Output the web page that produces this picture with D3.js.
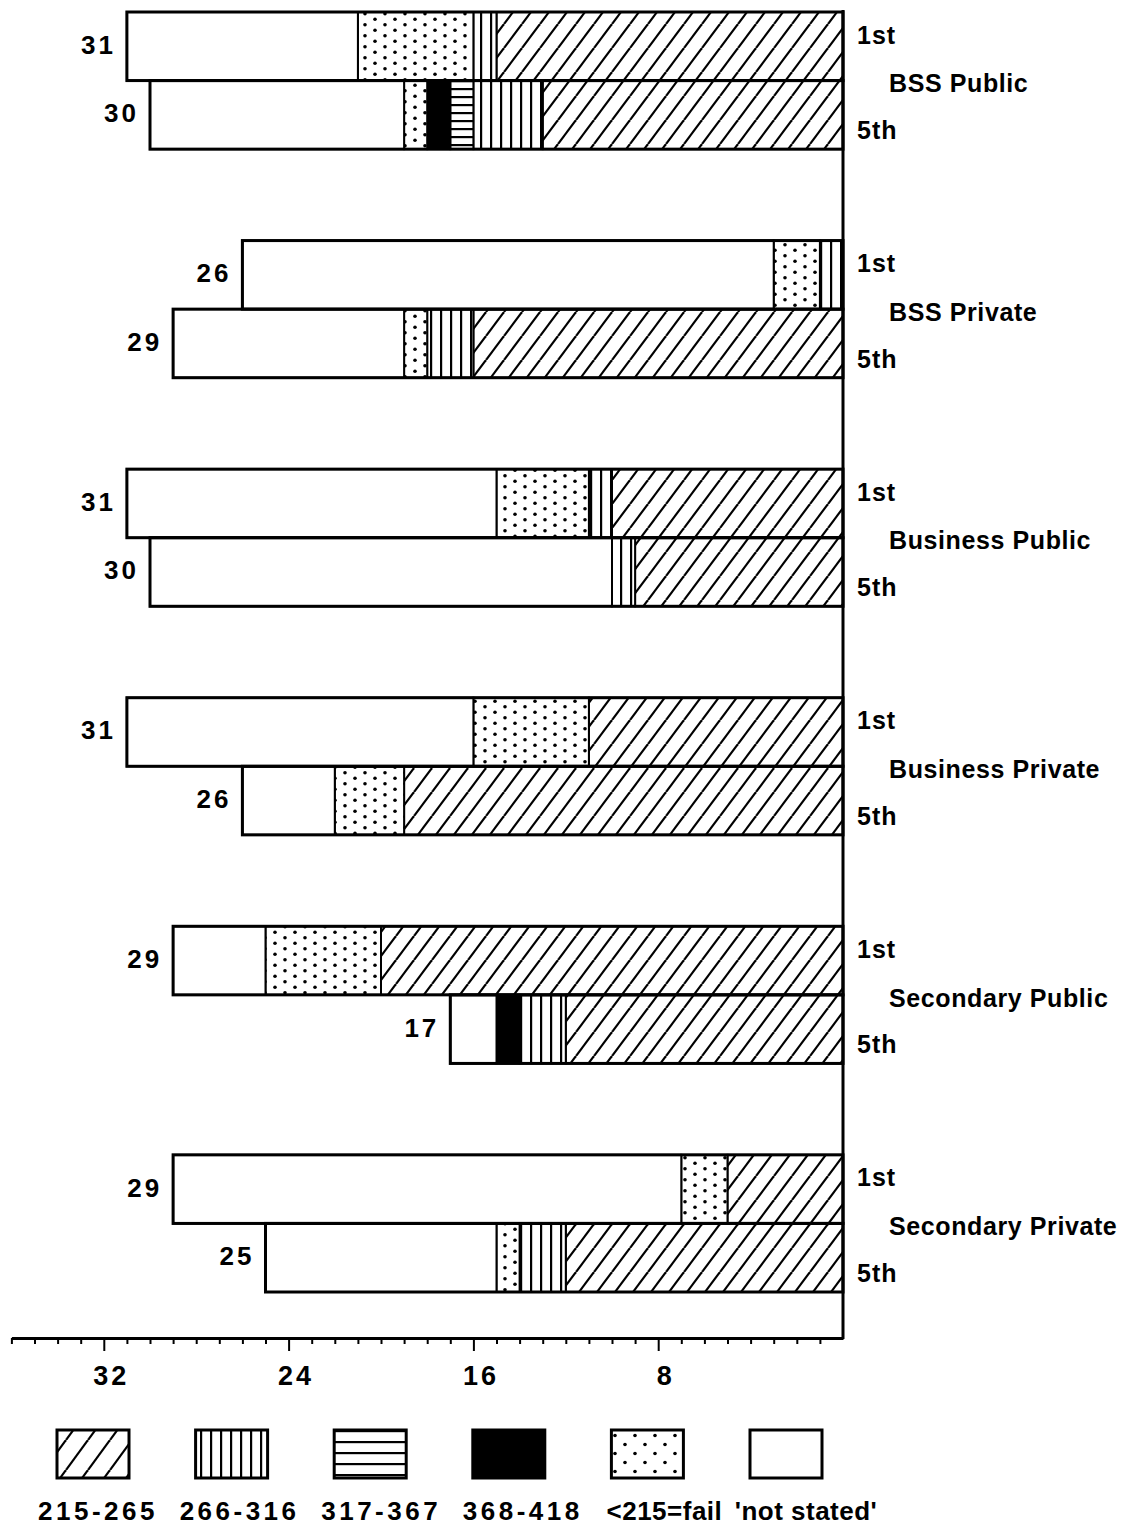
<!DOCTYPE html>
<html>
<head>
<meta charset="utf-8">
<script src="https://cdn.jsdelivr.net/npm/d3@7"></script>
<style>
  body { margin: 0; background: #fff; }
  text { font-family: "Liberation Sans", Arial, sans-serif; font-weight: bold; fill: #000; }
</style>
</head>
<body>
<div id="chart"></div>
<script>
// categories
var groups = ["BSS Public", "BSS Private", "Business Public", "Business Private", "Secondary Public", "Secondary Private"];
var years = ["1st", "5th"];
var bandKeys = ["215-265", "266-316", "317-367", "368-418", "<215=fail", "'not stated'"];

// counts per group, 1st then 5th year
var s215_265  = [15, 13,  0, 16, 10,  9, 11, 19, 20, 12,  5, 12];
var s266_316  = [ 1,  3,  1,  2,  1,  1,  0,  0,  0,  2,  0,  2];
var s317_367  = [ 0,  1,  0,  0,  0,  0,  0,  0,  0,  0,  0,  0];
var s368_418  = [ 0,  1,  0,  0,  0,  0,  0,  0,  0,  1,  0,  0];
var sFail     = [ 5,  1,  2,  1,  4,  0,  5,  3,  5,  0,  2,  1];
var sNotStated= [10, 11, 23, 10, 16, 20, 15,  4,  4,  2, 22, 10];

// axis ticks
var minorTicks = d3.range(1, 37);
var majorTicks = [8, 16, 24, 32];

var series = [s215_265, s266_316, s317_367, s368_418, sFail, sNotStated];
var patIds = ["diag", "vert", "horz", "black", "dots", "white"];

var rows = [];
groups.forEach(function(g, i) {
    years.forEach(function(y, j) {
        var r = { group: g, year: y };
        bandKeys.forEach(function(k, n) { r[k] = series[n][i * 2 + j]; });
        r.total = d3.sum(bandKeys, function(k) { return r[k]; });
        rows.push(r);
    });
});

var width = 1129, height = 1526;

var svg = d3.select("#chart").append("svg")
    .attr("width", width)
    .attr("height", height);

// patterns
var defs = svg.append("defs");
function makePatterns(suffix, diagW, diagH, vGap, hGap, dotH) {
    var p = defs.append("pattern").attr("id", "diag" + suffix)
        .attr("patternUnits", "userSpaceOnUse").attr("width", diagW).attr("height", diagH);
    p.append("rect").attr("width", diagW).attr("height", diagH).attr("fill", "#fff");
    [-diagW, 0, diagW].forEach(function(o) {
        p.append("line").attr("x1", o).attr("y1", diagH).attr("x2", o + diagW).attr("y2", 0)
            .attr("stroke", "#000").attr("stroke-width", 2.2);
    });

    p = defs.append("pattern").attr("id", "vert" + suffix)
        .attr("patternUnits", "userSpaceOnUse").attr("width", vGap).attr("height", 10);
    p.append("rect").attr("width", vGap).attr("height", 10).attr("fill", "#fff");
    p.append("rect").attr("x", 0).attr("width", 2.2).attr("height", 10).attr("fill", "#000");

    p = defs.append("pattern").attr("id", "horz" + suffix)
        .attr("patternUnits", "userSpaceOnUse").attr("width", 10).attr("height", hGap);
    p.append("rect").attr("width", 10).attr("height", hGap).attr("fill", "#fff");
    p.append("rect").attr("y", 0).attr("width", 10).attr("height", 2.2).attr("fill", "#000");

    p = defs.append("pattern").attr("id", "dots" + suffix)
        .attr("patternUnits", "userSpaceOnUse").attr("width", 20).attr("height", dotH);
    p.append("rect").attr("width", 20).attr("height", dotH).attr("fill", "#fff");
    p.append("circle").attr("cx", 5).attr("cy", dotH * 0.25).attr("r", 1.8).attr("fill", "#000");
    p.append("circle").attr("cx", 15).attr("cy", dotH * 0.75).attr("r", 1.8).attr("fill", "#000");
}
makePatterns("", 18, 24, 10, 8, 11);
makePatterns("L", 22, 30, 10, 11, 18);

function fillFor(id, suffix) {
    if (id === "black") return "#000";
    if (id === "white") return "#fff";
    return "url(#" + id + suffix + ")";
}

// scales
var x = d3.scaleLinear().domain([0, 36]).range([843, 843 - 36 * 23.1]);
var yGroup = d3.scaleBand().domain(groups).range([12, 1292]).paddingInner(0.4).paddingOuter(0);
var yYear = d3.scaleBand().domain(years).range([0, yGroup.bandwidth()]);

function rowY(d) { return yGroup(d.group) + yYear(d.year); }

var stacked = d3.stack().keys(bandKeys)(rows);

// segments
var layers = svg.append("g").selectAll("g")
    .data(stacked)
    .enter().append("g")
    .attr("fill", function(d, i) { return fillFor(patIds[i], ""); });

layers.selectAll("rect")
    .data(function(d) { return d.filter(function(s) { return s[1] > s[0]; }); })
    .enter().append("rect")
    .attr("x", function(s) { return x(s[1]); })
    .attr("width", function(s) { return x(s[0]) - x(s[1]); })
    .attr("y", function(s) { return rowY(s.data); })
    .attr("height", yYear.bandwidth())
    .attr("stroke", "#000")
    .attr("stroke-width", 2);

// bar outlines
svg.append("g").selectAll("rect")
    .data(rows)
    .enter().append("rect")
    .attr("x", function(d) { return x(d.total); })
    .attr("width", function(d) { return x(0) - x(d.total); })
    .attr("y", rowY)
    .attr("height", yYear.bandwidth())
    .attr("fill", "none")
    .attr("stroke", "#000")
    .attr("stroke-width", 3);

// totals on the left
svg.append("g").selectAll("text")
    .data(rows)
    .enter().append("text")
    .attr("x", function(d) { return x(d.total) - 11; })
    .attr("y", function(d) { return rowY(d) + yYear.bandwidth() / 2 - 2; })
    .attr("dy", "0.36em")
    .attr("text-anchor", "end")
    .style("font-size", "26px")
    .style("letter-spacing", "3px")
    .text(function(d) { return d.total; });

// right labels
var yb = yYear.bandwidth();
var rl = svg.append("g");
groups.forEach(function(g) {
    var top = yGroup(g);
    rl.append("text").attr("x", 857).attr("y", top + yb * 0.33).attr("dy", "0.36em")
        .style("font-size", "25px").style("letter-spacing", "1px").text("1st");
    rl.append("text").attr("x", 889).attr("y", top + yGroup.bandwidth() * 0.52).attr("dy", "0.36em")
        .style("font-size", "25px").style("letter-spacing", "0.6px").text(g);
    rl.append("text").attr("x", 857).attr("y", top + yb * 1.72).attr("dy", "0.36em")
        .style("font-size", "25px").style("letter-spacing", "1px").text("5th");
});

// right vertical axis line
svg.append("line")
    .attr("x1", x(0)).attr("x2", x(0))
    .attr("y1", 10).attr("y2", 1339)
    .attr("stroke", "#000").attr("stroke-width", 3);

// bottom axis
var axisG = svg.append("g").attr("transform", "translate(0,1338)")
    .call(d3.axisBottom(x).tickValues(minorTicks).tickSizeOuter(0)
        .tickFormat(function(d) { return majorTicks.indexOf(d) >= 0 ? d : ""; }));
axisG.select(".domain").attr("stroke-width", 3);
axisG.selectAll(".tick line")
    .attr("stroke-width", 2)
    .attr("y2", function(d) { return majorTicks.indexOf(d) >= 0 ? 13 : 6; });
axisG.selectAll(".tick text")
    .attr("y", 28)
    .attr("dx", 7)
    .attr("dy", "0.71em")
    .style("font-family", "'Liberation Sans', Arial, sans-serif")
    .style("font-weight", "bold")
    .style("font-size", "27px")
    .style("letter-spacing", "3px");

// legend
var lx = d3.scalePoint().domain(bandKeys).range([93, 786]);
var lt = d3.scalePoint().domain(bandKeys).range([98, 806]);
var leg = svg.append("g").selectAll("g")
    .data(bandKeys)
    .enter().append("g");
leg.append("rect")
    .attr("x", function(d) { return lx(d) - 36; })
    .attr("y", 1430).attr("width", 72).attr("height", 48)
    .attr("fill", function(d, i) { return fillFor(patIds[i], "L"); })
    .attr("stroke", "#000").attr("stroke-width", 3);
leg.append("text")
    .attr("x", function(d) { return lt(d); })
    .attr("y", 1520)
    .attr("text-anchor", "middle")
    .style("font-size", "26px")
    .style("letter-spacing", function(d) { return /[a-z]/.test(d) ? "0.5px" : "3.5px"; })
    .text(function(d) { return d; });
</script>
</body>
</html>
